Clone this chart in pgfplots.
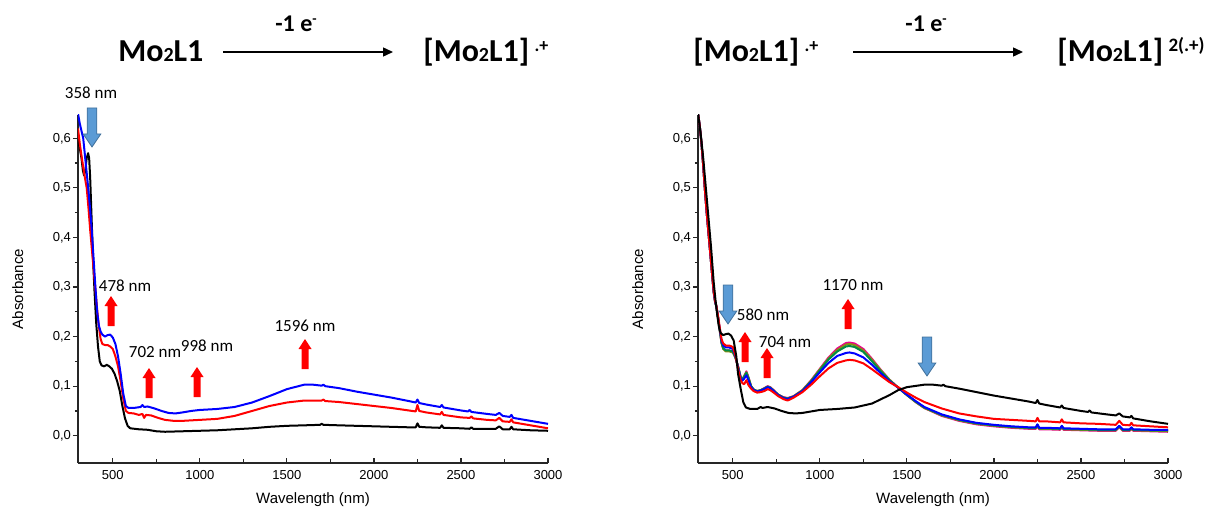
\documentclass[border=0pt]{standalone}
\usepackage{fontspec}
\setmainfont{Liberation Sans}
\newfontfamily\carlito{Carlito}
\usepackage{pgfplots}
\pgfplotsset{compat=1.18}
\usepackage{pgfplotstable}
\usetikzlibrary{arrows.meta}

\definecolor{arrblue}{RGB}{91,155,213}
\definecolor{arrblueedge}{RGB}{65,113,156}
\definecolor{cgreen}{RGB}{0,140,70}
\definecolor{colive}{RGB}{140,140,20}

% red up arrow, bottom centre at #1
\newcommand\redup[1]{\fill[red] #1 ++(-1.75pt,0pt) -- ++(3.5pt,0pt) -- ++(0pt,10pt) -- ++(1.5pt,0pt) -- ++(-3.25pt,5pt) -- ++(-3.25pt,-5pt) -- ++(1.5pt,0pt) -- cycle;}
% blue down arrow, top centre at #1
\newcommand\bluedown[1]{\filldraw[fill=arrblue,draw=arrblueedge,line width=0.4pt] #1 ++(-2.4pt,0pt) -- ++(4.8pt,0pt) -- ++(0pt,-13pt) -- ++(2pt,0pt) -- ++(-4.4pt,-6.5pt) -- ++(-4.4pt,6.5pt) -- ++(2pt,0pt) -- cycle;}

\newcommand\titlef{\carlito\bfseries\fontsize{16}{16}\selectfont}
\newcommand\ef{\carlito\bfseries\fontsize{12}{12}\selectfont}
\newcommand\annf{\carlito\fontsize{8.5}{9}\selectfont}
\newcommand\sub{\fontsize{10}{10}\selectfont 2}

\pgfplotsset{spec/.style={
  scale only axis, width=235pt, height=174pt,
  xmin=300, xmax=3000, ymin=-0.055, ymax=0.647,
  axis x line*=bottom, axis y line*=left,
  axis line style={line width=0.7pt, black!85},
  xtick={500,1000,1500,2000,2500,3000}, minor x tick num=1,
  ytick={0,0.1,0.2,0.3,0.4,0.5,0.6}, minor y tick num=1,
  tick align=inside, tick style={black!85, line width=0.6pt},
  major tick length=2.5pt, minor tick length=1.6pt,
  minor x tick style={/pgfplots/minor tick length=2.2pt},
  major y tick style={xshift=-2.5pt},
  minor y tick style={xshift=-1.6pt},
  /pgf/number format/assume math mode=true,
  tick label style={font=\fontsize{6.5}{7}\selectfont},
  xticklabel style={/pgf/number format/1000 sep={}},
  yticklabel style={/pgf/number format/.cd, fixed, fixed zerofill, precision=1, use comma},
  xlabel={Wavelength (nm)}, ylabel={Absorbance},
  label style={font=\fontsize{7.5}{8}\selectfont},
  xlabel style={at={(axis description cs:0.5,-0.106)}, anchor=center},
  ylabel style={at={(axis description cs:-0.128,0.5)}, anchor=center},
  every axis plot/.append style={line width=1pt, line join=round},
}}

% right panel, oxidised series: wavelength, red, blue, green, olive, magenta
\pgfplotstableread{
lam red blue green olive magenta
300 .650 .650 .650 .650 .650
310 .625 .625 .625 .625 .625
320 .590 .590 .590 .590 .590
330 .545 .545 .545 .545 .545
340 .495 .495 .495 .495 .495
350 .450 .450 .450 .450 .450
360 .410 .410 .410 .410 .410
370 .370 .370 .370 .370 .370
380 .330 .330 .330 .330 .330
390 .292 .291 .290 .290 .290
398 .272 .271 .270 .270 .270
405 .263 .262 .261 .261 .261
415 .242 .240 .238 .238 .238
425 .218 .215 .212 .212 .212
435 .195 .192 .188 .187 .188
445 .186 .182 .176 .175 .176
460 .182 .178 .172 .170 .172
480 .182 .178 .172 .170 .172
500 .179 .175 .170 .168 .170
515 .162 .160 .158 .157 .158
530 .135 .138 .140 .140 .140
545 .112 .116 .118 .118 .118
555 .106 .111 .114 .114 .114
565 .104 .115 .119 .120 .120
578 .112 .122 .127 .128 .130
590 .102 .112 .116 .117 .118
605 .095 .098 .100 .100 .100
620 .090 .092 .093 .093 .093
640 .087 .089 .090 .090 .090
660 .088 .091 .092 .092 .092
680 .090 .094 .095 .095 .096
700 .094 .098 .099 .099 .100
715 .092 .096 .097 .097 .098
735 .087 .090 .091 .091 .092
760 .080 .082 .083 .083 .083
790 .074 .076 .077 .077 .078
815 .071 .074 .075 .075 .076
850 .077 .079 .079 .080 .080
900 .088 .090 .091 .092 .092
950 .103 .108 .110 .111 .112
1000 .120 .128 .132 .134 .135
1050 .136 .147 .154 .156 .158
1100 .147 .161 .170 .173 .176
1150 .152 .167 .180 .184 .187
1170 .153 .168 .181 .185 .188
1200 .152 .166 .179 .183 .186
1250 .146 .158 .169 .172 .175
1300 .134 .143 .150 .153 .155
1350 .121 .126 .130 .132 .133
1400 .108 .110 .112 .113 .113
1450 .098 .097 .097 .097 .097
1500 .087 .083 .082 .082 .082
1550 .077 .070 .069 .068 .068
1600 .068 .058 .057 .056 .056
1700 .055 .043 .042 .041 .040
1800 .045 .033 .032 .031 .030
1900 .039 .026 .025 .024 .023
2000 .034 .022 .021 .020 .019
2100 .032 .019 .018 .017 .016
2200 .030 .017 .016 .015 .014
2240 .029 .017 .016 .015 .014
2250 .036 .023 .022 .021 .019
2260 .029 .016 .015 .014 .013
2300 .029 .016 .015 .014 .013
2380 .027 .015 .014 .013 .012
2390 .033 .020 .019 .018 .017
2400 .027 .015 .014 .013 .012
2500 .025 .014 .013 .012 .011
2600 .024 .013 .012 .011 .010
2700 .022 .013 .012 .011 .010
2720 .030 .020 .019 .018 .017
2740 .022 .013 .012 .011 .010
2780 .021 .013 .012 .011 .010
2790 .026 .017 .016 .015 .014
2800 .021 .013 .012 .011 .010
2900 .019 .012 .011 .010 .009
3000 .017 .012 .011 .009 .008
}\oxtable

\begin{document}
\begin{tikzpicture}
\useasboundingbox (0pt,0pt) rectangle (604.5pt,-256.5pt);

% ---------- left panel ----------
\begin{axis}[spec, at={(39pt,-231.5pt)}, anchor=south west]
\addplot[black] coordinates {
(300,0.600)(310,0.580)(320,0.560)(328,0.535)(335,0.525)(342,0.535)(350,0.560)(358,0.570)
(364,0.560)(370,0.520)(378,0.440)(386,0.360)(395,0.290)(405,0.225)(415,0.180)(425,0.150)
(435,0.142)(450,0.140)(465,0.143)(480,0.140)(495,0.135)(510,0.125)(525,0.110)(540,0.090)
(555,0.060)(570,0.035)(585,0.020)(600,0.015)(650,0.013)(700,0.012)(750,0.009)(800,0.008)
(900,0.009)(1000,0.010)(1100,0.011)(1200,0.013)(1300,0.015)(1400,0.018)(1500,0.020)
(1600,0.021)(1690,0.022)(1700,0.024)(1710,0.022)(1800,0.021)(1900,0.020)(2000,0.019)
(2100,0.018)(2200,0.017)(2240,0.017)(2250,0.025)(2260,0.018)(2300,0.017)(2380,0.016)
(2390,0.021)(2400,0.016)(2500,0.015)(2550,0.014)(2560,0.017)(2570,0.014)(2650,0.014)
(2700,0.014)(2720,0.019)(2740,0.013)(2780,0.013)(2790,0.018)(2800,0.013)(2900,0.011)(3000,0.010)};
\addplot[red] coordinates {
(300,0.620)(310,0.590)(320,0.565)(330,0.542)(340,0.520)(350,0.500)(360,0.460)(370,0.415)
(380,0.375)(390,0.335)(400,0.295)(410,0.255)(420,0.220)(430,0.195)(440,0.185)(455,0.183)
(470,0.183)(485,0.180)(500,0.175)(515,0.160)(530,0.140)(545,0.110)(560,0.075)(575,0.050)
(590,0.046)(620,0.045)(650,0.042)(670,0.044)(680,0.036)(690,0.042)(720,0.041)(760,0.036)
(800,0.032)(850,0.030)(900,0.030)(1000,0.032)(1100,0.034)(1200,0.040)(1300,0.050)(1400,0.060)
(1500,0.067)(1600,0.071)(1700,0.071)(1710,0.073)(1720,0.070)(1800,0.068)(1900,0.064)
(2000,0.060)(2100,0.056)(2200,0.051)(2240,0.049)(2250,0.062)(2260,0.050)(2300,0.047)
(2380,0.043)(2390,0.048)(2400,0.042)(2500,0.037)(2550,0.036)(2560,0.039)(2570,0.035)
(2650,0.032)(2700,0.031)(2720,0.036)(2740,0.029)(2780,0.028)(2790,0.033)(2800,0.027)
(2900,0.021)(3000,0.015)};
\addplot[blue] coordinates {
(300,0.650)(310,0.630)(320,0.615)(330,0.600)(340,0.565)(350,0.530)(360,0.495)(370,0.455)
(380,0.410)(390,0.355)(400,0.300)(410,0.250)(420,0.222)(430,0.210)(440,0.204)(455,0.200)
(470,0.203)(485,0.204)(500,0.198)(515,0.185)(530,0.160)(545,0.125)(560,0.085)(575,0.060)
(590,0.056)(620,0.056)(660,0.058)(670,0.062)(680,0.058)(700,0.059)(740,0.055)(780,0.050)
(820,0.046)(860,0.045)(900,0.047)(950,0.050)(1000,0.052)(1100,0.054)(1200,0.058)(1300,0.067)
(1400,0.080)(1500,0.094)(1600,0.103)(1650,0.103)(1700,0.101)(1710,0.103)(1720,0.100)
(1800,0.096)(1900,0.089)(2000,0.083)(2100,0.077)(2200,0.070)(2240,0.067)(2250,0.073)
(2260,0.066)(2300,0.063)(2380,0.058)(2390,0.062)(2400,0.057)(2500,0.051)(2540,0.049)
(2550,0.052)(2560,0.048)(2650,0.044)(2700,0.042)(2720,0.046)(2740,0.040)(2780,0.038)
(2790,0.042)(2800,0.036)(2900,0.030)(3000,0.024)};
\end{axis}

% ---------- right panel ----------
\begin{axis}[spec, at={(349pt,-231.5pt)}, anchor=south west]
\addplot[magenta] table[x=lam, y=magenta] {\oxtable};
\addplot[colive] table[x=lam, y=olive] {\oxtable};
\addplot[cgreen] table[x=lam, y=green] {\oxtable};
\addplot[blue] table[x=lam, y=blue] {\oxtable};
\addplot[red] table[x=lam, y=red] {\oxtable};
\addplot[black] coordinates {
(300,0.650)(315,0.610)(330,0.560)(345,0.500)(360,0.440)(375,0.380)(390,0.310)(400,0.275)
(410,0.245)(420,0.220)(430,0.207)(445,0.203)(460,0.205)(475,0.206)(490,0.202)(505,0.192)
(520,0.160)(530,0.125)(545,0.095)(560,0.068)(575,0.057)(600,0.054)(640,0.054)(660,0.058)
(670,0.056)(700,0.058)(740,0.055)(780,0.050)(820,0.046)(860,0.045)(900,0.046)(950,0.049)
(1000,0.052)(1100,0.054)(1200,0.057)(1300,0.065)(1400,0.082)(1450,0.092)(1500,0.098)
(1600,0.103)(1650,0.103)(1700,0.101)(1710,0.103)(1720,0.100)(1800,0.095)(1900,0.088)
(2000,0.081)(2100,0.075)(2200,0.069)(2240,0.066)(2250,0.072)(2260,0.065)(2300,0.062)
(2380,0.057)(2390,0.061)(2400,0.056)(2500,0.050)(2540,0.048)(2550,0.051)(2560,0.047)
(2650,0.043)(2700,0.041)(2720,0.045)(2740,0.039)(2780,0.037)(2790,0.040)(2800,0.035)
(2900,0.029)(3000,0.024)};
\end{axis}

% ---------- reaction schemes ----------
\node[anchor=base west, inner sep=0, font=\titlef] at (59pt,-31pt) {Mo{\sub}L1};
\node[anchor=base west, inner sep=0, font=\ef] at (137.5pt,-16pt) {-1 e\raisebox{4pt}{\fontsize{7}{7}\selectfont -}};
\draw[line width=0.7pt, -{Triangle[length=5pt,width=4.5pt]}] (111.5pt,-26pt) -- (196.5pt,-26pt);
\node[anchor=base west, inner sep=0, font=\titlef] at (211.5pt,-31pt) {[Mo{\sub}L1]\,\raisebox{5pt}{\fontsize{9}{9}\selectfont .+}};

\node[anchor=base west, inner sep=0, font=\titlef] at (346.5pt,-31pt) {[Mo{\sub}L1]\,\raisebox{5pt}{\fontsize{9}{9}\selectfont .+}};
\node[anchor=base west, inner sep=0, font=\ef] at (452.5pt,-16pt) {-1 e\raisebox{4pt}{\fontsize{7}{7}\selectfont -}};
\draw[line width=0.7pt, -{Triangle[length=5pt,width=4.5pt]}] (426.5pt,-26pt) -- (511.5pt,-26pt);
\node[anchor=base west, inner sep=0, font=\titlef] at (528.5pt,-31pt) {[Mo{\sub}L1]\,\raisebox{5pt}{\fontsize{9.5}{9.5}\selectfont 2(.+)}};

% ---------- band annotations ----------
\node[anchor=base, inner sep=0, font=\annf] at (45.5pt,-49.5pt) {358 nm};
\bluedown{(46pt,-54pt)}
\node[anchor=base, inner sep=0, font=\annf] at (62.5pt,-146pt) {478 nm};
\redup{(55.5pt,-163pt)}
\node[anchor=base, inner sep=0, font=\annf] at (77.5pt,-178.5pt) {702 nm};
\redup{(74.5pt,-199pt)}
\node[anchor=base, inner sep=0, font=\annf] at (103.5pt,-175.5pt) {998 nm};
\redup{(98.5pt,-198.5pt)}
\node[anchor=base, inner sep=0, font=\annf] at (152.5pt,-165.5pt) {1596 nm};
\redup{(152.5pt,-184.5pt)}

\bluedown{(364pt,-142.5pt)}
\node[anchor=base, inner sep=0, font=\annf] at (381.5pt,-160pt) {580 nm};
\redup{(372.5pt,-181pt)}
\node[anchor=base, inner sep=0, font=\annf] at (392.5pt,-173.5pt) {704 nm};
\redup{(383.5pt,-189pt)}
\node[anchor=base, inner sep=0, font=\annf] at (426.5pt,-145pt) {1170 nm};
\redup{(424pt,-164.5pt)}
\bluedown{(463.5pt,-168.5pt)}
\end{tikzpicture}
\end{document}
